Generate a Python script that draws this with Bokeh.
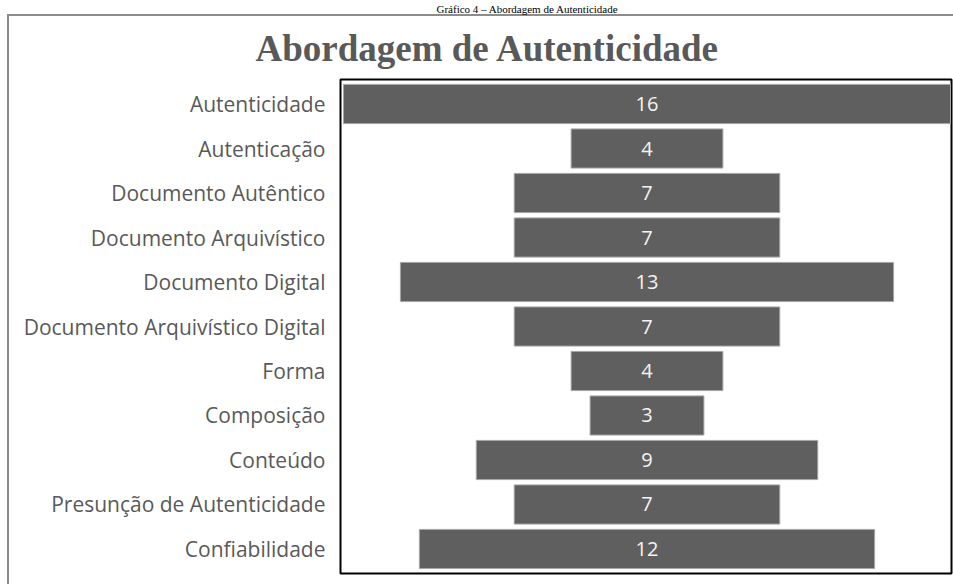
from bokeh.plotting import figure
from bokeh.models import FactorRange, Range1d, ColumnDataSource, LabelSet, Title
from bokeh.core.properties import value
from bokeh.embed import file_html
from bokeh.resources import INLINE

categories = ["Autenticidade", "Autenticação", "Documento Autêntico", "Documento Arquivístico",
              "Documento Digital", "Documento Arquivístico Digital", "Forma", "Composição",
              "Conteúdo", "Presunção de Autenticidade", "Confiabilidade"]
values = [16, 4, 7, 7, 13, 7, 4, 3, 9, 7, 12]
chart_title = "Abordagem de Autenticidade"
caption = "Gráfico 4 – Abordagem de Autenticidade"

W, H = 953, 584
FL, FR, FT, FB = 340, 951, 79, 573

src = ColumnDataSource(dict(
    cat=categories,
    val=values,
    left=[-v / 2 for v in values],
    right=[v / 2 for v in values],
    lab=[str(v) for v in values],
    zero=[0] * len(values),
))

p = figure(width=W, height=H, output_backend="svg", toolbar_location=None,
           x_axis_type=None, title=None,
           x_range=Range1d(-8.079, 8.026),
           y_range=FactorRange(factors=list(reversed(categories)),
                               range_padding=0.0506, range_padding_units="absolute"),
           min_border_left=FL, min_border_right=W - FR, min_border_top=FT, min_border_bottom=H - FB)

# outer gray frame of the chart area (page decoration)
p.styles = {
    "background-color": "white",
    "background-image": "linear-gradient(#8c8c8c, #8c8c8c), linear-gradient(#8c8c8c, #8c8c8c)",
    "background-size": "2px 100%, 100% 2px",
    "background-position": "7px 14px, 7px 14px",
    "background-repeat": "no-repeat",
}

p.xgrid.visible = False
p.ygrid.visible = False
p.outline_line_color = "black"
p.outline_line_width = 2
p.background_fill_color = "white"
p.border_fill_color = None

ax = p.yaxis[0]
ax.axis_line_color = None
ax.major_tick_line_color = None
ax.minor_tick_line_color = None
ax.major_tick_out = 0
ax.major_tick_in = 0
ax.major_label_standoff = 15
ax.major_label_text_font = "Open Sans"
ax.major_label_text_font_size = "21px"
ax.major_label_text_color = "#595959"

p.hbar(y="cat", left="left", right="right", height=0.88, source=src,
       fill_color="#5f5f5f", line_color="#a6a6a6", line_width=1)

p.add_layout(LabelSet(x="zero", y="cat", text="lab", source=src, x_offset=0,
                      text_align="center", text_baseline="middle",
                      text_font=value("Open Sans"), text_font_size="20px",
                      text_color="#f4f4f4"))

# main chart title (nearest the frame), then the figure caption above it
p.add_layout(Title(text=chart_title, align="left", offset=-85, standoff=22,
                   text_font="Liberation Serif", text_font_style="bold",
                   text_font_size="37px", text_color="#595959"), "above")
p.add_layout(Title(text=caption, align="left", offset=96, standoff=0,
                   text_font="Liberation Serif", text_font_style="normal",
                   text_font_size="11px", text_color="black"), "above")

open("out.html", "w").write(file_html(p, INLINE))
